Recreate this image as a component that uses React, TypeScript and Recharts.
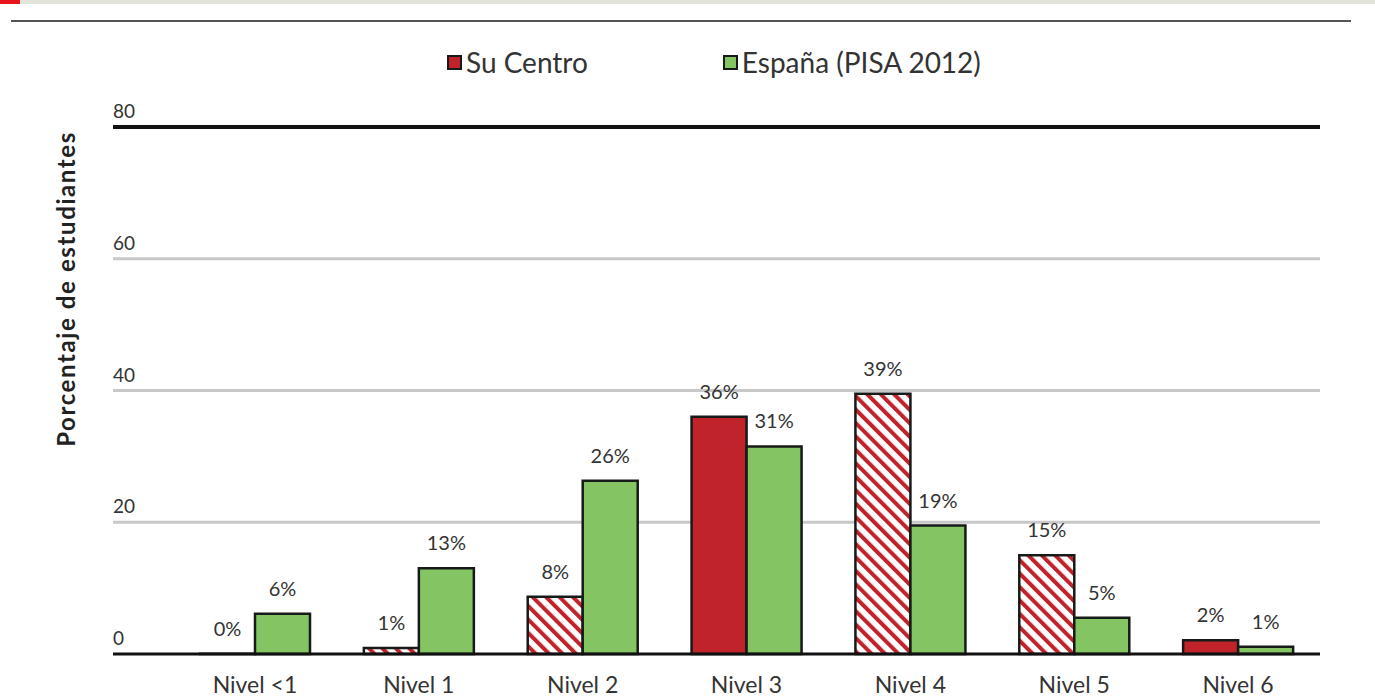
import { BarChart, Bar, XAxis, YAxis, CartesianGrid, Cell, LabelList, Label } from 'recharts';

const categories = ['Nivel <1', 'Nivel 1', 'Nivel 2', 'Nivel 3', 'Nivel 4', 'Nivel 5', 'Nivel 6'];
const suCentro = [0.05, 0.9, 8.7, 36, 39.5, 15, 2.1];
const espana = [6.1, 13, 26.3, 31.5, 19.5, 5.5, 1.1];
const suCentroLabels = ['0%', '1%', '8%', '36%', '39%', '15%', '2%'];
const espanaLabels = ['6%', '13%', '26%', '31%', '19%', '5%', '1%'];
const hatched = [false, true, true, false, true, true, false];
const yTicks = [0, 20, 40, 60, 80];

const RED = '#c1232b';
const GREEN = '#85c462';
const EDGE = '#161a18';
const TEXT = '#333333';
const FONT = 'Lato, "Open Sans", sans-serif';

const data = categories.map((name, i) => ({
  name,
  su: suCentro[i],
  es: espana[i],
  suLabel: suCentroLabels[i],
  esLabel: espanaLabels[i],
}));

// grid lines: top one black and thick, others light grey
const gridLine = (p: any) => {
  const top = Math.abs(p.y1 - 127) < 2;
  const bottom = p.y1 > 640;
  if (bottom) return <g key={p.key} />;
  return (
    <line
      key={p.key}
      x1={p.x1}
      x2={p.x2}
      y1={p.y1}
      y2={p.y2}
      stroke={top ? '#111' : '#c8c8c8'}
      strokeWidth={top ? 4 : 3}
    />
  );
};

const YTick = ({ y, payload }: any) => (
  <text x={113} y={y - 9} fontSize={19} fill={TEXT} fontFamily={FONT}>
    {payload.value}
  </text>
);

const XTick = ({ x, y, payload }: any) => (
  <text x={x} y={y + 31} textAnchor="middle" fontSize={23} fill={TEXT} fontFamily={FONT}>
    {payload.value}
  </text>
);

const LegendItem = ({ color, label }: { color: string; label: string }) => (
  <span style={{ display: 'inline-flex', alignItems: 'center' }}>
    <span
      style={{
        width: 11,
        height: 11,
        background: color,
        border: `2px solid ${EDGE}`,
        display: 'inline-block',
        marginRight: 4,
      }}
    />
    <span style={{ fontSize: 28, color: TEXT }}>{label}</span>
  </span>
);

export default function App() {
  return (
    <div style={{ position: 'absolute', left: 0, top: 0, width: 1375, height: 698, background: '#fff', fontFamily: FONT }}>
      <div style={{ position: 'absolute', left: 0, top: 0, width: 1375, height: 4, background: '#e4e4da' }} />
      <div style={{ position: 'absolute', left: 0, top: 0, width: 20, height: 4, background: '#e8141c' }} />
      <div style={{ position: 'absolute', left: 11, top: 20, width: 1340, height: 2, background: '#555' }} />
      <div style={{ position: 'absolute', left: 447, top: 45, display: 'flex', gap: 135 }}>
        <LegendItem color={RED} label="Su Centro" />
        <LegendItem color={GREEN} label="España (PISA 2012)" />
      </div>
      <svg width={0} height={0} style={{ position: 'absolute' }}>
        <defs>
          <pattern id="hatch" width={9.5} height={9.5} patternUnits="userSpaceOnUse" patternTransform="rotate(-45)">
            <rect width={9.5} height={9.5} fill="#fff" />
            <rect width={4} height={9.5} fill={RED} />
          </pattern>
        </defs>
      </svg>
      <BarChart
        width={1375}
        height={698}
        data={data}
        margin={{ top: 127, right: 55, left: 0, bottom: 0 }}
        barGap={0}
        barCategoryGap={0}
        style={{ position: 'absolute', left: 0, top: 0 }}
      >
        <CartesianGrid vertical={false} horizontal={gridLine} />
        <XAxis
          dataKey="name"
          height={44}
          padding={{ left: 60, right: 0 }}
          tickLine={false}
          axisLine={{ stroke: '#111', strokeWidth: 3 }}
          tick={<XTick />}
          interval={0}
        />
        <YAxis
          width={113}
          domain={[0, 80]}
          ticks={yTicks}
          axisLine={false}
          tickLine={false}
          tick={<YTick />}
        >
          <Label
            content={() => (
              <text
                transform="translate(75,289) rotate(-90)"
                textAnchor="middle"
                fontSize={24}
                fontWeight="bold"
                letterSpacing={1.6}
                fill="#222"
                fontFamily={FONT}
              >
                Porcentaje de estudiantes
              </text>
            )}
          />
        </YAxis>
        <Bar dataKey="su" barSize={55} stroke={EDGE} strokeWidth={2.5} isAnimationActive={false}>
          {data.map((d, i) => (
            <Cell key={d.name} fill={hatched[i] ? 'url(#hatch)' : RED} />
          ))}
          <LabelList dataKey="suLabel" position="top" offset={18} fontSize={20} fill={TEXT} fontFamily={FONT} />
        </Bar>
        <Bar dataKey="es" barSize={55} fill={GREEN} stroke={EDGE} strokeWidth={2.5} isAnimationActive={false}>
          <LabelList dataKey="esLabel" position="top" offset={18} fontSize={20} fill={TEXT} fontFamily={FONT} />
        </Bar>
      </BarChart>
    </div>
  );
}
